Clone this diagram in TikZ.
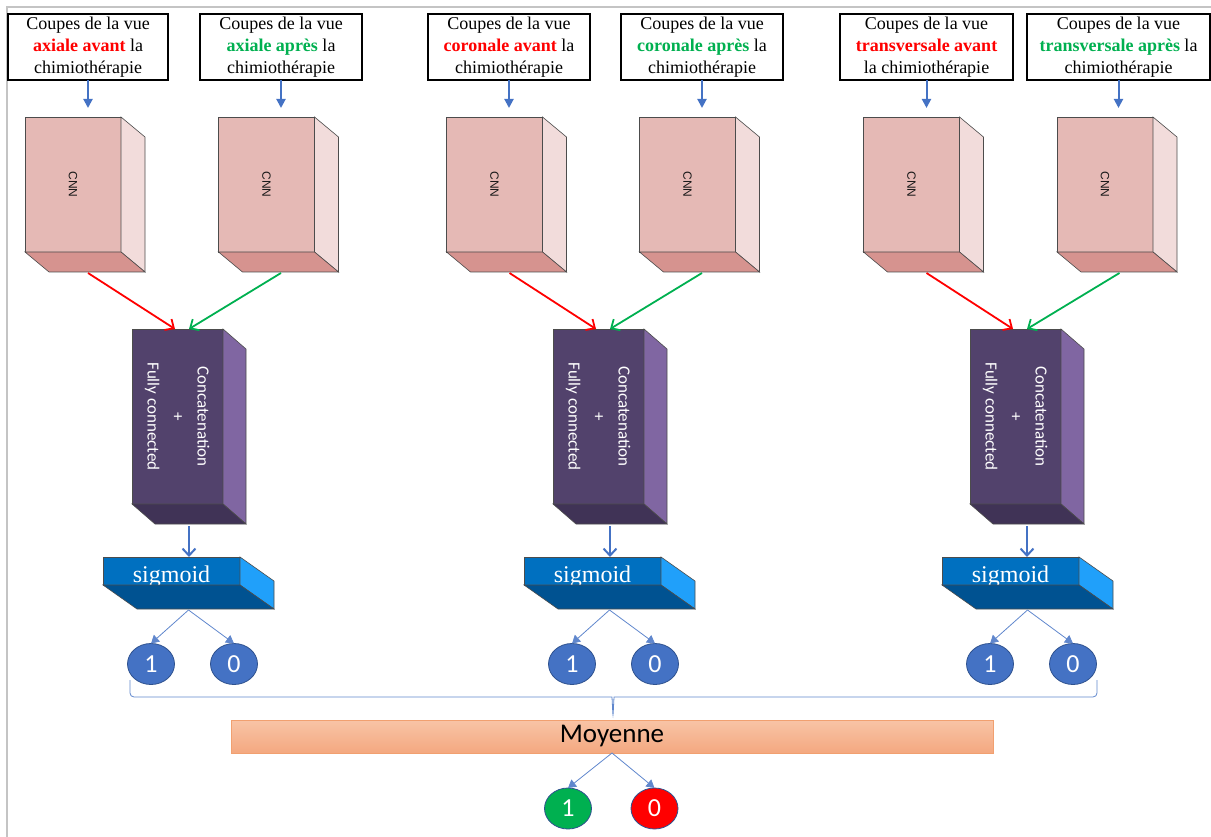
\documentclass[tikz,border=0pt]{standalone}
\usepackage{fontspec}
\setmainfont{Liberation Serif}
\setsansfont{Carlito}
\newfontfamily\arialfont{Liberation Sans}
\usepackage{graphicx}
\usepackage{xcolor}
\definecolor{avantred}{RGB}{255,0,0}
\definecolor{apresgreen}{RGB}{0,176,80}
\definecolor{arrowblue}{RGB}{68,114,196}
\definecolor{circleedge}{RGB}{47,82,143}
\definecolor{cnnfront}{RGB}{229,185,181}
\definecolor{cnnside}{RGB}{242,220,219}
\definecolor{cnnbottom}{RGB}{214,147,143}
\definecolor{fcfront}{RGB}{82,66,108}
\definecolor{fcside}{RGB}{128,102,162}
\definecolor{fcbottom}{RGB}{64,51,86}
\definecolor{sigfront}{RGB}{0,112,192}
\definecolor{sigside}{RGB}{32,160,250}
\definecolor{sigbottom}{RGB}{0,82,145}
\definecolor{moytop}{RGB}{248,196,166}
\definecolor{moybottom}{RGB}{244,168,128}
\definecolor{moyedge}{RGB}{241,160,112}
\definecolor{framegray}{RGB}{196,196,196}
\usepackage{tikz}
\usetikzlibrary{arrows.meta,positioning,calc,shapes.geometric}

\newcommand{\avant}[1]{\textbf{\color{avantred}#1}}
\newcommand{\apres}[1]{\textbf{\color{apresgreen}#1}}
% side and bottom faces of a block: node, depth x, depth y, side colour, bottom colour
\newcommand{\blockfaces}[5]{%
  \filldraw[fill=#4, draw=black!70, line width=0.6pt] (#1.north east) -- ++(#2,#3)
    -- ($(#1.south east)+(#2,#3)$) -- (#1.south east) -- cycle;
  \filldraw[fill=#5, draw=black!70, line width=0.6pt] (#1.south west) -- (#1.south east)
    -- ++(#2,#3) -- ($(#1.south west)+(#2,#3)$) -- cycle;}

\begin{document}
\begin{tikzpicture}[
  x=1pt, y=-1pt,
  titlebox/.style={rectangle, draw, line width=1.2pt, fill=white, align=center,
                   minimum height=66pt, inner sep=0pt, outer sep=0pt,
                   font=\fontsize{18}{22}\selectfont},
  cnnbox/.style={rectangle, draw=black!70, line width=0.6pt, fill=cnnfront,
                 minimum width=96pt, minimum height=135pt, inner sep=0pt, outer sep=0pt,
                 font=\arialfont\fontsize{12}{14}\selectfont, text=black!90},
  fcbox/.style={rectangle, draw=black!70, line width=0.6pt, fill=fcfront,
                minimum width=91pt, minimum height=175pt, inner sep=0pt, outer sep=0pt,
                font=\sffamily\fontsize{17}{25}\selectfont, text=white},
  sigbox/.style={rectangle, draw=black!70, line width=0.6pt, fill=sigfront,
                 minimum width=137pt, minimum height=28pt, inner sep=0pt, outer sep=0pt,
                 font=\fontsize{24}{26}\selectfont, text=white},
  bitbox/.style={ellipse, draw=circleedge, line width=0.8pt, fill=arrowblue,
                 minimum width=47pt, minimum height=41pt, inner sep=0pt, outer sep=0pt,
                 font=\sffamily\fontsize{26}{28}\selectfont, text=white},
  moybox/.style={rectangle, draw=moyedge, line width=0.8pt, top color=moytop,
                 bottom color=moybottom, minimum width=762pt, minimum height=33pt,
                 inner sep=0pt, outer sep=0pt, font=\sffamily\fontsize{27}{29}\selectfont},
  titlearr/.style={-{Triangle[length=9pt,width=9pt]}, line width=2pt, color=arrowblue},
  downarr/.style={-{Straight Barb[length=7pt,width=13pt]}, line width=2pt, color=arrowblue},
  redarr/.style={-{Straight Barb[length=7pt,width=13pt]}, line width=1.8pt, color=avantred},
  greenarr/.style={-{Straight Barb[length=7pt,width=13pt]}, line width=1.8pt, color=apresgreen},
  thinarr/.style={-{Triangle[length=8pt,width=9pt]}, line width=0.8pt, color=arrowblue!85},
  bracel/.style={line width=0.8pt, color=arrowblue!85, rounded corners=4pt}
]
\useasboundingbox (0,0) rectangle (1211,837);

%% frame
\draw[framegray, line width=2pt] (1211,7) -- (7,7) -- (7,837);

%% titles
\node[titlebox, minimum width=160pt] (t1) at (88,47)    {Coupes de la vue\\\avant{axiale avant} la\\chimiothérapie};
\node[titlebox, minimum width=162pt] (t2) at (281,47)   {Coupes de la vue\\\apres{axiale après} la\\chimiothérapie};
\node[titlebox, minimum width=162pt] (t3) at (509,47)   {Coupes de la vue\\\avant{coronale avant} la\\chimiothérapie};
\node[titlebox, minimum width=162pt] (t4) at (702,47)   {Coupes de la vue\\\apres{coronale après} la\\chimiothérapie};
\node[titlebox, minimum width=173pt] (t5) at (926.5,47) {Coupes de la vue\\\avant{transversale avant}\\la chimiothérapie};
\node[titlebox, minimum width=183pt] (t6) at (1118.5,47) {Coupes de la vue\\\apres{transversale après} la\\chimiothérapie};

%% CNN blocks
\node[cnnbox] (c1) at (73,184.5)   {\rotatebox{-90}{CNN}};
\node[cnnbox] (c2) at (266.5,184.5) {\rotatebox{-90}{CNN}};
\node[cnnbox] (c3) at (494.5,184.5) {\rotatebox{-90}{CNN}};
\node[cnnbox] (c4) at (687.5,184.5) {\rotatebox{-90}{CNN}};
\node[cnnbox] (c5) at (911.5,184.5) {\rotatebox{-90}{CNN}};
\node[cnnbox] (c6) at (1105,184.5)  {\rotatebox{-90}{CNN}};
\blockfaces{c1}{24}{20}{cnnside}{cnnbottom}
\blockfaces{c2}{24}{20}{cnnside}{cnnbottom}
\blockfaces{c3}{24}{20}{cnnside}{cnnbottom}
\blockfaces{c4}{24}{20}{cnnside}{cnnbottom}
\blockfaces{c5}{24}{20}{cnnside}{cnnbottom}
\blockfaces{c6}{24}{20}{cnnside}{cnnbottom}

%% concatenation + fully connected
\node[fcbox] (f1) at (177.5,416.5)  {\rotatebox{-90}{\begin{tabular}{@{}c@{}}Concatenation\\+\\Fully connected\end{tabular}}};
\node[fcbox] (f2) at (598.5,416.5)  {\rotatebox{-90}{\begin{tabular}{@{}c@{}}Concatenation\\+\\Fully connected\end{tabular}}};
\node[fcbox] (f3) at (1015.5,416.5) {\rotatebox{-90}{\begin{tabular}{@{}c@{}}Concatenation\\+\\Fully connected\end{tabular}}};
\blockfaces{f1}{23}{20}{fcside}{fcbottom}
\blockfaces{f2}{23}{20}{fcside}{fcbottom}
\blockfaces{f3}{23}{20}{fcside}{fcbottom}

%% sigmoid
\node[sigbox] (s1) at (171.5,571)  {\raisebox{-11pt}[0pt][0pt]{sigmoid}};
\node[sigbox] (s2) at (592.5,571)  {\raisebox{-11pt}[0pt][0pt]{sigmoid}};
\node[sigbox] (s3) at (1010.5,571) {\raisebox{-11pt}[0pt][0pt]{sigmoid}};
\blockfaces{s1}{34}{24}{sigside}{sigbottom}
\blockfaces{s2}{34}{24}{sigside}{sigbottom}
\blockfaces{s3}{34}{24}{sigside}{sigbottom}

%% outputs
\node[bitbox] (one1)  at (151,664)  {1};
\node[bitbox] (zero1) at (234,664)  {0};
\node[bitbox] (one2)  at (572,664)  {1};
\node[bitbox] (zero2) at (655,664)  {0};
\node[bitbox] (one3)  at (990,664)  {1};
\node[bitbox] (zero3) at (1073,664) {0};

\node[moybox] (moy) at (612,736.5) {Moyenne};
\node[bitbox, fill=apresgreen] (fin1) at (568,808.5)   {1};
\node[bitbox, fill=avantred]   (fin0) at (654.5,808.5) {0};

%% arrows
\draw[titlearr] (t1.south) -- ($(t1.south |- c1.north)+(0,-9)$);
\draw[titlearr] (t2.south) -- ($(t2.south |- c2.north)+(0,-9)$);
\draw[titlearr] (t3.south) -- ($(t3.south |- c3.north)+(0,-9)$);
\draw[titlearr] (t4.south) -- ($(t4.south |- c4.north)+(0,-9)$);
\draw[titlearr] (t5.south) -- ($(t5.south |- c5.north)+(0,-9)$);
\draw[titlearr] (t6.south) -- ($(t6.south |- c6.north)+(0,-9)$);

\draw[redarr]   ($(c1.south)+(15,21)$) -- ($(f1.north)+(-2.5,0)$);
\draw[greenarr] ($(c2.south)+(14.5,21)$) -- ($(f1.north)+(11.5,0)$);
\draw[redarr]   ($(c3.south)+(15,21)$) -- ($(f2.north)+(-2.5,0)$);
\draw[greenarr] ($(c4.south)+(14.5,21)$) -- ($(f2.north)+(11.5,0)$);
\draw[redarr]   ($(c5.south)+(15,21)$) -- ($(f3.north)+(-2.5,0)$);
\draw[greenarr] ($(c6.south)+(14.5,21)$) -- ($(f3.north)+(11.5,0)$);

\draw[downarr] ($(f1.south)+(11.5,22)$) -- ($(s1.north)+(17.5,0)$);
\draw[downarr] ($(f2.south)+(11.5,22)$) -- ($(s2.north)+(17.5,0)$);
\draw[downarr] ($(f3.south)+(11.5,22)$) -- ($(s3.north)+(16.5,0)$);

\draw[thinarr] ($(s1.south)+(17,25)$) -- (one1.north);
\draw[thinarr] ($(s1.south)+(17,25)$) -- (zero1.north);
\draw[thinarr] ($(s2.south)+(17,25)$) -- (one2.north);
\draw[thinarr] ($(s2.south)+(17,25)$) -- (zero2.north);
\draw[thinarr] ($(s3.south)+(17,25)$) -- (one3.north);
\draw[thinarr] ($(s3.south)+(17,25)$) -- (zero3.north);

%% brace
\coordinate (bl) at (130,680);
\coordinate (br) at (1097,680);
\coordinate (bm) at (613,717);
\draw[bracel] (bl) |- ($(bm)+(-5,-20)$) .. controls ($(bm)+(-1,-20)$) .. (bm)
  .. controls ($(bm)+(1,-20)$) .. ($(bm)+(5,-20)$) -| (br);

\draw[thinarr] (moy.south) -- (fin1.north);
\draw[thinarr] (moy.south) -- (fin0.north);

\end{tikzpicture}
\end{document}
